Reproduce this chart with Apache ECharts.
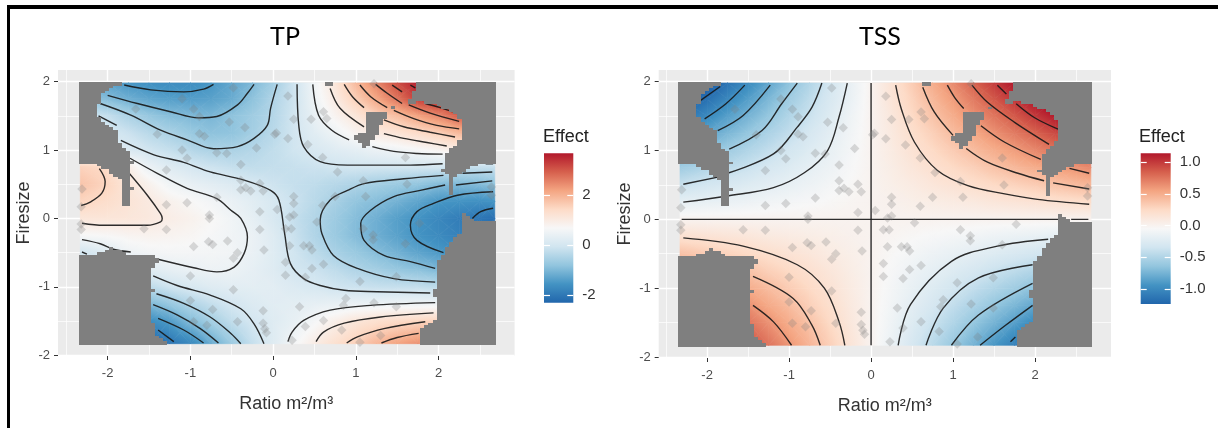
<!DOCTYPE html>
<html><head><meta charset="utf-8">
<style>html,body{margin:0;padding:0;background:#fff}#c{width:1218px;height:428px}</style>
<script src="https://cdn.jsdelivr.net/npm/echarts@6/dist/echarts.min.js"></script>
</head><body><div id="c"></div>
<script>
const panelTitles = ['TP', 'TSS'];
const xLabel = 'Ratio m²/m³';
const yLabel = 'Firesize';
const legendTitle = 'Effect';
const xTicks = [-2, -1, 0, 1, 2];
const yTicks = [-2, -1, 0, 1, 2];
const xMinor = [-2.5, -1.5, -0.5, 0.5, 1.5, 2.5];
const yMinor = [-1.5, -0.5, 0.5, 1.5];
const tpLegendTicks = [-2, 0, 2];
const tssLegendTicks = [-1, -0.5, 0, 0.5, 1];
const tpRange = [-2.3, 3.67];
const tssRange = [-1.24, 1.14];
const palette = ['#2166AC', '#4393C3', '#92C5DE', '#D1E5F0', '#F7F7F7', '#FDDBC7', '#F4A582', '#D6604D', '#B2182B'];

const gridX = [-2.33, -2, -1.75, -1.5, -1.25, -1, -0.75, -0.5, -0.25, 0, 0.25, 0.5, 0.75, 1, 1.25, 1.5, 1.75, 2, 2.25, 2.5, 2.68];
const gridY = [1.98, 1.75, 1.5, 1.25, 1, 0.75, 0.5, 0.25, 0, -0.25, -0.5, -0.75, -1, -1.25, -1.5, -1.83];

const tpValues = [
[-1.2,-1.3,-1.5,-1.6,-1.65,-1.65,-1.5,-1.25,-1,-.6,-.1,.55,1.15,1.9,2.5,3.1,3.6,3.6,3.6,3.6,3.6],
[-.8,-.95,-1.15,-1.3,-1.38,-1.4,-1.35,-1.2,-.85,-.45,-.1,.5,1,1.6,2.15,2.7,3.3,3.5,3.4,3.4,3.4],
[0,-.2,-.5,-.75,-.92,-1,-1.03,-.85,-.65,-.4,-.05,.4,.8,1.15,1.55,1.85,2.2,2.5,2.95,3,3],
[.1,.05,-.12,-.35,-.52,-.72,-.85,-.82,-.6,-.35,-.05,.25,.5,.8,1.02,1.2,1.4,1.6,1.9,2.2,2.3],
[.3,.25,.12,-.05,-.2,-.38,-.5,-.5,-.4,-.25,-.07,.08,.22,.32,.45,.52,.65,.8,.95,1.1,1.2],
[1.55,1.4,.95,.45,.2,.03,-.1,-.2,-.25,-.22,-.18,-.12,-.06,-.04,-.03,-.03,-.02,-.02,-.2,-.2,-.2],
[1.75,1.5,1.15,.85,.55,.4,.28,.15,.03,-.1,-.2,-.28,-.38,-.48,-.6,-.7,-.8,-.95,-1,-.95,-.85],
[1.52,1.35,1.2,1.05,.85,.72,.58,.42,.25,.05,-.12,-.35,-.55,-.8,-.92,-1.1,-1.3,-1.5,-1.55,-1.6,-1.55],
[1.15,1.15,1.13,1.08,.95,.85,.72,.55,.35,.08,-.2,-.43,-.68,-.93,-1.15,-1.38,-1.55,-1.75,-1.92,-2.05,-2.15],
[.65,.7,.78,.82,.8,.75,.65,.55,.45,.2,-.15,-.45,-.7,-.95,-1.15,-1.35,-1.55,-1.7,-1.85,-2,-2],
[-.05,.2,.48,.58,.62,.62,.6,.57,.42,.22,-.06,-.3,-.53,-.72,-.92,-1.1,-1.3,-1.45,-1.7,-1.9,-2],
[-.1,-.1,0,.22,.35,.42,.49,.47,.35,.2,-.02,-.12,-.28,-.45,-.6,-.75,-.85,-1,-1.2,-1.4,-1.5],
[-.4,-.4,-.4,-.3,-.08,.07,.2,.28,.3,.28,.15,.05,-.06,-.12,-.18,-.2,-.22,-.3,-.5,-.6,-.7],
[-1.1,-1.1,-1.1,-1,-.75,-.45,-.22,0,.15,.25,.3,.35,.4,.45,.47,.5,.5,.52,.6,.6,.6],
[-1.7,-1.7,-1.7,-1.65,-1.4,-.95,-.58,-.25,0,.2,.38,.62,.9,1.15,1.3,1.4,1.48,1.55,1.6,1.6,1.6],
[-2.3,-2.3,-2.3,-2.3,-2.05,-1.75,-1.2,-.7,-.2,.2,.6,.97,1.3,1.6,1.95,2.2,2.4,2.5,2.5,2.5,2.5]
];

const tssValues = [
[-1.54,-1.32,-1.15,-.99,-.83,-.66,-.5,-.33,-.16,0,.16,.33,.5,.66,.83,.99,1.15,1.32,1.49,1.65,1.77],
[-1.36,-1.17,-1.02,-.88,-.73,-.58,-.44,-.29,-.15,0,.15,.29,.44,.58,.73,.88,1.02,1.17,1.31,1.46,1.56],
[-1.17,-1,-.87,-.75,-.63,-.5,-.38,-.25,-.12,0,.12,.25,.38,.5,.63,.75,.87,1,1.13,1.25,1.34],
[-.97,-.83,-.73,-.63,-.52,-.42,-.31,-.21,-.1,0,.1,.21,.31,.42,.52,.63,.73,.83,.94,1.04,1.12],
[-.78,-.67,-.58,-.5,-.42,-.33,-.25,-.17,-.08,0,.08,.17,.25,.33,.42,.5,.58,.67,.75,.83,.89],
[-.58,-.5,-.44,-.38,-.31,-.25,-.19,-.13,-.06,0,.06,.13,.19,.25,.31,.38,.44,.5,.56,.62,.67],
[-.39,-.33,-.29,-.25,-.21,-.17,-.13,-.08,-.04,0,.04,.08,.13,.17,.21,.25,.29,.33,.38,.42,.45],
[-.19,-.17,-.15,-.13,-.1,-.08,-.06,-.04,-.02,0,.02,.04,.06,.08,.1,.13,.15,.17,.19,.21,.22],
[0,0,0,0,0,0,0,0,0,0,0,0,0,0,0,0,0,0,0,0,0],
[.19,.17,.15,.13,.1,.08,.06,.04,.02,0,-.02,-.04,-.06,-.08,-.1,-.13,-.15,-.17,-.19,-.21,-.22],
[.39,.33,.29,.25,.21,.17,.13,.08,.04,0,-.04,-.08,-.13,-.17,-.21,-.25,-.29,-.33,-.38,-.42,-.45],
[.58,.5,.44,.38,.31,.25,.19,.13,.06,0,-.06,-.13,-.19,-.25,-.31,-.38,-.44,-.5,-.56,-.62,-.67],
[.78,.67,.58,.5,.42,.33,.25,.17,.08,0,-.08,-.17,-.25,-.33,-.42,-.5,-.58,-.67,-.75,-.83,-.89],
[.97,.83,.73,.63,.52,.42,.31,.21,.1,0,-.1,-.21,-.31,-.42,-.52,-.63,-.73,-.83,-.94,-1.04,-1.12],
[1.17,1,.87,.75,.63,.5,.38,.25,.12,0,-.12,-.25,-.38,-.5,-.63,-.75,-.87,-1,-1.13,-1.25,-1.34],
[1.42,1.22,1.07,.92,.76,.61,.46,.31,.15,0,-.15,-.31,-.46,-.61,-.76,-.92,-1.07,-1.22,-1.37,-1.52,-1.63]
];

const tpContours = [
[[-1.8,1.95],[-1.48,1.88],[-1.08,1.85],[-.84,1.89],[-.72,1.96]],
[[-2,1.8],[-1.64,1.68],[-1.24,1.56],[-.9,1.47],[-.68,1.49],[-.43,1.66],[-.31,1.83],[-.23,1.96]],
[[-2.09,1.68],[-1.72,1.51],[-1.36,1.29],[-1.04,1.15],[-.72,1.02],[-.43,1.05],[-.23,1.17],[-.07,1.36],[-.03,1.61],[.05,1.96]],
[[-2.11,1.5],[-1.89,1.36]],
[[-1.84,1.14],[-1.44,.93],[-1.08,.82],[-.76,.68],[-.35,.56],[-.03,.41],[.07,.27],[.14,-.22],[.21,-.66],[.37,-.88],[.57,-.98],[.86,-1.05],[1.26,-1.07],[1.9,-1.09]],
[[-1.76,.69],[-1.52,.34],[-1.36,.07],[-1.34,0],[-1.36,-.05],[-1.52,-.1],[-2.05,-.1],[-2.31,-.07]],
[[-2.1,.73],[-2.03,.54],[-2.07,.37],[-2.21,.24],[-2.32,.19]],
[[-1.73,.88],[-1.4,.66],[-1.04,.44],[-.68,.29],[-.51,.12],[-.39,0],[-.31,-.27],[-.35,-.51],[-.47,-.71],[-.68,-.78],[-.96,-.72],[-1.38,-.6]],
[[-2.31,-.31],[-2.09,-.37],[-1.93,-.45],[-1.72,-.49]],
[[-2.31,-.49],[-2.25,-.52]],
[[-1.45,-.84],[-1.16,-.98],[-.76,-1.12],[-.39,-1.32],[-.23,-1.54],[-.11,-1.83]],
[[-1.41,-1.1],[-1.08,-1.24],[-.76,-1.44],[-.51,-1.68],[-.39,-1.83]],
[[-1.45,-1.26],[-1.16,-1.41],[-.88,-1.61],[-.66,-1.82]],
[[-1.39,-1.46],[-1.08,-1.63],[-.84,-1.82]],
[[-1.39,-1.63],[-1.2,-1.8]],
[[.29,1.96],[.31,1.37],[.37,1.05],[.57,.83],[.9,.78],[1.66,.78],[2.05,.8]],
[[.48,1.96],[.55,1.51],[.71,1.29],[.92,1.15]],
[[.69,1.9],[.81,1.61],[1.1,1.34]],
[[.86,1.96],[.96,1.78],[1.1,1.62]],
[[1.05,1.95],[1.18,1.78],[1.38,1.62]],
[[1.24,1.96],[1.38,1.83],[1.56,1.68]],
[[1.44,1.95],[1.56,1.85]],
[[1.66,1.95],[1.72,1.91]],
[[1.84,1.68],[2.02,1.62],[2.17,1.56]],
[[1.64,1.66],[1.9,1.54],[2.25,1.42]],
[[1.46,1.58],[1.7,1.46],[1.98,1.36],[2.25,1.31]],
[[1.34,1.44],[1.58,1.34],[1.9,1.26],[2.2,1.19]],
[[1.34,1.24],[1.58,1.17],[1.86,1.11],[2.1,1.06]],
[[1.2,1.05],[1.46,.98],[1.74,.95],[2.05,.94]],
[[2.06,.63],[1.58,.58],[1.1,.51],[.9,.41],[.69,.27],[.57,-.02],[.59,-.22],[.73,-.54],[1.02,-.73],[1.46,-.88],[1.96,-.93]],
[[2.29,.66],[2.65,.68]],
[[2.57,.8],[2.66,.8]],
[[2.08,.49],[1.78,.41],[1.46,.32],[1.18,.12],[1.06,-.07],[1.1,-.32],[1.34,-.54],[1.66,-.63],[1.96,-.73]],
[[2.21,.49],[2.65,.55]],
[[2.66,.39],[2.23,.34],[1.94,.22],[1.74,.1],[1.66,-.1],[1.74,-.32],[2.06,-.5]],
[[2.41,0],[2.51,.1],[2.66,.15]],
[[.18,-1.8],[.23,-1.66],[.37,-1.49],[.69,-1.34],[1.18,-1.27],[1.96,-1.23]],
[[.52,-1.8],[.61,-1.66],[.86,-1.53],[1.3,-1.44],[1.94,-1.38]],
[[.89,-1.82],[1.02,-1.73],[1.34,-1.61],[1.84,-1.51]],
[[1.31,-1.82],[1.5,-1.74],[1.76,-1.68]]
];

const tssContours = [
[[0,1.98],[0,-1.83]],
[[-2.31,0],[2.3,0]],
[[2.44,0],[2.65,0]],
[[.3,1.95],[.37,1.6],[.53,1.12],[.81,.71],[1.18,.49],[1.63,.37],[2.03,.29],[2.66,.22]],
[[.63,1.92],[.77,1.56],[1,1.22]],
[[1.16,1.03],[1.42,.83],[1.79,.67],[2.11,.56]],
[[2.22,.53],[2.66,.44]],
[[.93,1.95],[1.02,1.77],[1.13,1.61]],
[[1.34,1.36],[1.63,1.12],[2.07,.87]],
[[2.42,.74],[2.66,.67]],
[[1.23,1.95],[1.42,1.7],[1.75,1.41],[2.17,1.09]],
[[1.54,1.95],[1.65,1.82]],
[[1.77,1.68],[1.99,1.48],[2.28,1.31]],
[[-2.29,.25],[-1.75,.34],[-1.19,.46],[-.81,.68],[-.53,1],[-.39,1.49],[-.29,1.98]],
[[-2.29,.51],[-1.84,.62]],
[[-1.75,.67],[-1.19,.95],[-.9,1.34],[-.72,1.63],[-.6,1.98]],
[[-1.73,1.02],[-1.33,1.29],[-1.09,1.68],[-.9,1.98]],
[[-1.87,1.29],[-1.56,1.51],[-1.23,1.95]],
[[-2.03,1.46],[-1.77,1.68],[-1.54,1.95]],
[[-2.1,1.71],[-1.84,1.93]],
[[-2.29,-.27],[-1.56,-.39],[-.9,-.66],[-.57,-1],[-.39,-1.49],[-.32,-1.83]],
[[-1.44,-.83],[-.95,-1.15],[-.72,-1.54],[-.62,-1.83]],
[[-1.44,-1.25],[-1.19,-1.49],[-.97,-1.83]],
[[.33,-1.83],[.48,-1.24],[.98,-.61],[1.54,-.39],[2.16,-.29]],
[[.67,-1.83],[.88,-1.29],[1.31,-.85],[1.97,-.66]],
[[.98,-1.83],[1.31,-1.39],[1.97,-.93]],
[[1.33,-1.83],[1.64,-1.54],[1.97,-1.25]],
[[1.7,-1.78],[1.76,-1.71]]
];

const pointsX = [-.48,1.22,.18,-1.1,-.96,-1.66,-.89,-.53,.46,.25,.65,.61,-.34,-1.4,-.89,-.83,.04,.02,.18,.42,-.2,-1.1,-1.04,-.68,-.56,.6,1.6,-.39,.78,-1.29,-.39,-.16,1.09,1.62,-.39,-.33,-.27,-.12,.25,-2.31,-.68,1.12,.75,.25,-1.04,-1.29,-2.32,.6,2.64,2.64,-.16,.05,.25,.2,-.77,-.77,.53,1.77,-2.32,-2.32,-1.56,-1.29,-.16,.15,.22,1.09,1.21,1.21,1.6,-.78,-.73,-.55,-.96,.2,.37,.44,.47,-.11,-.43,-.48,.15,.61,.47,-1,.15,.39,1.49,1.05,-.48,-1,.88,.85,1.22,1.49,.32,-.73,-.12,.61,-.43,-.8,-.96,-.12,.39,-.1,-.08,.83,1.3,.23,1.05];
const pointsY = [1.91,1.97,1.79,1.75,1.6,1.6,1.49,1.41,1.45,1.45,1.46,1.56,1.33,1.23,1.24,1.2,1.25,1.23,1.17,1.08,1.03,1,.88,.96,.95,.89,.89,.79,.68,.71,.56,.51,.55,.5,.42,.45,.4,.4,.32,.43,.31,.32,.32,.22,.23,.2,.17,.19,.34,.46,.1,.13,.05,.02,.05,0,-.05,-.07,-.08,-.16,-.15,-.16,-.16,-.15,-.15,-.15,-.24,-.31,-.37,-.34,-.38,-.33,-.41,-.4,-.4,-.4,-.46,-.46,-.5,-.58,-.64,-.67,-.73,-.84,-.83,-.86,-.85,-.92,-1.04,-1.2,-1.17,-1.27,-1.23,-1.29,-1.29,-1.33,-1.35,-1.49,-1.51,-1.56,-1.51,-1.53,-1.58,-1.61,-1.67,-1.63,-1.71,-1.78,-1.81];

const maskTopLeft = [[-2.33,1.98],[-1.82,1.98],[-2.07,1.83],[-2.11,1.64],[-2.16,1.61],[-2.13,1.5],[-1.88,1.26],[-1.88,1.13],[-1.72,.95],[-1.7,.81],[-1.74,.62],[-1.7,.46],[-1.68,.44],[-1.75,.37],[-1.75,.19],[-1.82,.19],[-1.82,.53],[-1.97,.68],[-2.11,.78],[-2.33,.79]];
const maskBottomLeft = [[-2.33,-.54],[-2.11,-.51],[-1.97,-.43],[-1.87,-.45],[-1.78,-.52],[-1.42,-.54],[-1.37,-.62],[-1.46,-.73],[-1.46,-1.02],[-1.41,-1.02],[-1.41,-1.07],[-1.47,-1.08],[-1.47,-1.5],[-1.41,-1.54],[-1.41,-1.71],[-1.28,-1.83],[-2.33,-1.83]];
const maskCentre = [[1.14,1.57],[1.42,1.57],[1.5,1.62],[1.43,1.62],[1.3,1.36],[1.3,1.29],[1.18,1.12],[1.12,1],[1.04,1.12],[.94,1.17],[1.04,1.24],[1.14,1.29]];
const maskTopStub = [[.63,1.98],[.73,1.98],[.73,1.93],[.63,1.93]];
const maskTopRight = [[1.74,1.98],[1.7,1.85],[1.62,1.68],[1.64,1.66],[1.78,1.71],[1.98,1.66],[2.23,1.51],[2.29,1.37],[2.29,1.19],[2.21,1.07],[2.11,1],[2.08,.73],[2.04,.71],[2.06,.66],[2.14,.61],[2.14,.34],[2.19,.34],[2.19,.61],[2.29,.68],[2.39,.75],[2.54,.8],[2.68,.8],[2.68,1.98]];
const maskBottomRight = [[2.3,.06],[2.43,-.02],[2.48,-.05],[2.68,-.05],[2.68,-1.83],[1.79,-1.83],[1.79,-1.63],[1.86,-1.56],[1.96,-1.49],[1.98,-1.42],[1.98,-1.14],[1.94,-1.14],[1.94,-1.02],[1.98,-1.02],[1.98,-.66],[2.06,-.51],[2.12,-.37],[2.24,-.25],[2.3,-.1]];
const maskPolygons = [maskTopLeft, maskBottomLeft, maskCentre, maskTopStub, maskTopRight, maskBottomRight];

/* ---------- helpers ---------- */
const FONT = '"Liberation Sans", Arial, sans-serif';
const hex = h => [1, 3, 5].map(i => parseInt(h.substr(i, 2), 16));
const paletteRGB = palette.map(hex);
function ramp(v, r) {
  let t = (v - r[0]) / (r[1] - r[0]) * (palette.length - 1);
  t = Math.max(0, Math.min(palette.length - 1, t));
  const i = Math.min(palette.length - 2, Math.floor(t)), f = t - i;
  const a = paletteRGB[i], b = paletteRGB[i + 1];
  return 'rgb(' + a.map((c, k) => Math.round(c + (b[k] - c) * f)).join(',') + ')';
}
function triangles(rows) {
  const out = [];
  for (let j = 0; j < gridY.length - 1; j++) for (let i = 0; i < gridX.length - 1; i++) {
    const a = [gridX[i], gridY[j], rows[j][i]], b = [gridX[i + 1], gridY[j], rows[j][i + 1]];
    const c = [gridX[i + 1], gridY[j + 1], rows[j + 1][i + 1]], d = [gridX[i], gridY[j + 1], rows[j + 1][i]];
    const m = [(a[0] + b[0]) / 2, (a[1] + d[1]) / 2, (a[2] + b[2] + c[2] + d[2]) / 4];
    [[a, b], [b, c], [c, d], [d, a]].forEach(e => out.push([].concat(e[0], e[1], m)));
  }
  return out;
}
function heatItem(range) {
  return function (params, api) {
    const P = [0, 3, 6].map(k => api.coord([api.value(k), api.value(k + 1)]));
    const V = [2, 5, 8].map(k => api.value(k));
    const det = (P[1][0] - P[0][0]) * (P[2][1] - P[0][1]) - (P[2][0] - P[0][0]) * (P[1][1] - P[0][1]);
    const gx = ((V[1] - V[0]) * (P[2][1] - P[0][1]) - (V[2] - V[0]) * (P[1][1] - P[0][1])) / det;
    const gy = ((P[1][0] - P[0][0]) * (V[2] - V[0]) - (P[2][0] - P[0][0]) * (V[1] - V[0])) / det;
    const g2 = gx * gx + gy * gy, lo = Math.min.apply(null, V), hi = Math.max.apply(null, V);
    let fill;
    if (g2 < 1e-10 || hi - lo < 1e-6) fill = ramp(V[0], range);
    else {
      const stops = [{ offset: 0, color: ramp(lo, range) }];
      const step = (range[1] - range[0]) / (palette.length - 1);
      for (let k = 0; k < palette.length; k++) {
        const kv = range[0] + k * step;
        if (kv > lo && kv < hi) stops.push({ offset: (kv - lo) / (hi - lo), color: palette[k] });
      }
      stops.push({ offset: 1, color: ramp(hi, range) });
      fill = new echarts.graphic.LinearGradient(
        P[0][0] + gx * (lo - V[0]) / g2, P[0][1] + gy * (lo - V[0]) / g2,
        P[0][0] + gx * (hi - V[0]) / g2, P[0][1] + gy * (hi - V[0]) / g2, stops, true);
    }
    return { type: 'polygon', silent: true, shape: { points: P }, style: { fill: fill, stroke: fill, lineWidth: 0.7 } };
  };
}
function inPoly(x, y, poly) {
  let inside = false;
  for (let i = 0, j = poly.length - 1; i < poly.length; j = i++) {
    const a = poly[i], b = poly[j];
    if ((a[1] > y) !== (b[1] > y) && x < (b[0] - a[0]) * (y - a[1]) / (b[1] - a[1]) + a[0]) inside = !inside;
  }
  return inside;
}
function maskRuns() {
  const nx = 100, ny = 100, x0 = -2.33, x1 = 2.68, y0 = -1.83, y1 = 1.98, bleed = 0.02;
  const dx = (x1 - x0) / nx, dy = (y1 - y0) / ny, runs = [];
  for (let j = 0; j < ny; j++) {
    const yc = y0 + (j + .5) * dy;
    let start = -1;
    for (let i = 0; i <= nx; i++) {
      const on = i < nx && maskPolygons.some(p => inPoly(x0 + (i + .5) * dx, yc, p));
      if (on && start < 0) start = i;
      if (!on && start >= 0) {
        runs.push([x0 + start * dx - (start === 0 ? bleed : 0), y0 + j * dy - (j === 0 ? bleed : 0),
                   x0 + i * dx + (i === nx ? bleed : 0), y0 + (j + 1) * dy + (j === ny - 1 ? bleed : 0)]);
        start = -1;
      }
    }
  }
  return runs;
}
function maskItem(params, api) {
  const a = api.coord([api.value(0), api.value(3)]), b = api.coord([api.value(2), api.value(1)]);
  const x = Math.round(a[0]), y = Math.round(a[1]);
  return { type: 'rect', silent: true, shape: { x: x, y: y, width: Math.round(b[0]) - x, height: Math.round(b[1]) - y }, style: { fill: '#7F7F7F' } };
}
const runs = maskRuns();
const points = pointsX.map((x, i) => [x, pointsY[i]]);

/* ---------- layout ---------- */
const panels = [
  { grid: { left: 58, top: 70, width: 456.6, height: 286 }, x: [-2.6, 2.92], y: [-2.01, 2.17], values: tpValues, contours: tpContours, range: tpRange, legTicks: tpLegendTicks, fmt: v => String(v),
    legGrid: { left: 544, top: 153.3, width: 29.3, height: 149.4 } },
  { grid: { left: 658.7, top: 70, width: 452.3, height: 288 }, x: [-2.59, 2.926], y: [-2.015, 2.17], values: tssValues, contours: tssContours, range: tssRange, legTicks: tssLegendTicks, fmt: v => v.toFixed(1),
    legGrid: { left: 1140.7, top: 153.3, width: 30, height: 150.7 } }
];
const grids = [], xAxes = [], yAxes = [], series = [];
panels.forEach((p, n) => {
  const g = grids.length;
  grids.push(Object.assign({ show: true, backgroundColor: '#EBEBEB', borderWidth: 0, containLabel: false }, p.grid));
  const mk = (extra) => Object.assign({ type: 'value', gridIndex: g, axisLine: { show: false, onZero: false } }, extra);
  const xMain = xAxes.length;
  xAxes.push(mk({ min: p.x[0], max: p.x[1], position: 'bottom', name: xLabel, nameLocation: 'middle', nameGap: 39,
    nameTextStyle: { color: '#333', fontSize: 18, fontFamily: FONT },
    axisTick: { length: 4, lineStyle: { color: '#333', width: 1 }, customValues: xTicks },
    axisLabel: { customValues: xTicks, color: '#4D4D4D', fontSize: 13, margin: 11, fontFamily: FONT },
    splitLine: { show: true, lineStyle: { color: '#fff', width: 1.4 } } }));
  xAxes.push(mk({ min: p.x[0], max: p.x[1], position: 'top', axisTick: { show: false, customValues: xMinor }, axisLabel: { show: false, customValues: xMinor },
    splitLine: { show: true, lineStyle: { color: '#fff', width: 0.7 } } }));
  const yMain = yAxes.length;
  yAxes.push(mk({ min: p.y[0], max: p.y[1], position: 'left', name: yLabel, nameLocation: 'middle', nameGap: 25,
    nameTextStyle: { color: '#333', fontSize: 18, fontFamily: FONT },
    axisTick: { length: 4, lineStyle: { color: '#333', width: 1 }, customValues: yTicks },
    axisLabel: { customValues: yTicks, color: '#4D4D4D', fontSize: 13, margin: 8, fontFamily: FONT },
    splitLine: { show: true, lineStyle: { color: '#fff', width: 1.4 } } }));
  yAxes.push(mk({ min: p.y[0], max: p.y[1], position: 'right', axisTick: { show: false, customValues: yMinor }, axisLabel: { show: false, customValues: yMinor },
    splitLine: { show: true, lineStyle: { color: '#fff', width: 0.7 } } }));
  const ax = { xAxisIndex: xMain, yAxisIndex: yMain };
  series.push(Object.assign({ type: 'custom', name: panelTitles[n] + ' effect', renderItem: heatItem(p.range), data: triangles(p.values), encode: { x: [0, 3, 6], y: [1, 4, 7] }, z: 2, animation: false, silent: true, clip: true, progressive: 0 }, ax));
  p.contours.forEach(c => series.push(Object.assign({ type: 'line', data: c, smooth: 0.35, showSymbol: false, symbol: 'none', silent: true, z: 3, animation: false,
    lineStyle: { color: '#161616', width: 1.4, opacity: 0.9 } }, ax)));
  series.push(Object.assign({ type: 'custom', name: 'mask', renderItem: maskItem, data: runs, encode: { x: [0, 2], y: [1, 3] }, z: 4, animation: false, silent: true, progressive: 0 }, ax));
  series.push(Object.assign({ type: 'scatter', name: 'sites', data: points, symbol: 'diamond', symbolSize: 9.5, silent: true, z: 5, animation: false,
    itemStyle: { color: '#7d7d7d', opacity: 0.27 } }, ax));
  /* legend colour bar */
  const lg = grids.length;
  grids.push(Object.assign({ show: false, containLabel: false }, p.legGrid));
  const lx = xAxes.length;
  xAxes.push({ type: 'value', gridIndex: lg, min: 0, max: 1, show: false });
  const ly = yAxes.length;
  const tickStyle = { inside: true, length: 6, lineStyle: { color: '#fff', width: 1.2 }, customValues: p.legTicks };
  yAxes.push({ type: 'value', gridIndex: lg, min: p.range[0], max: p.range[1], position: 'right', z: 6, axisLine: { show: false, onZero: false }, splitLine: { show: false },
    axisTick: tickStyle, axisLabel: { customValues: p.legTicks, color: '#333', fontSize: 15, margin: 9, fontFamily: FONT, formatter: p.fmt } });
  yAxes.push({ type: 'value', gridIndex: lg, min: p.range[0], max: p.range[1], position: 'left', z: 6, axisLine: { show: false, onZero: false }, splitLine: { show: false },
    axisTick: tickStyle, axisLabel: { show: false, customValues: p.legTicks } });
  series.push({ type: 'custom', name: 'colour bar', xAxisIndex: lx, yAxisIndex: ly, data: [[0, p.range[0], 1, p.range[1]]], encode: { x: [0, 2], y: [1, 3] }, z: 2, animation: false, silent: true,
    renderItem: (params, api) => {
      const a = api.coord([api.value(0), api.value(3)]), b = api.coord([api.value(2), api.value(1)]);
      return { type: 'rect', silent: true, shape: { x: a[0], y: a[1], width: b[0] - a[0], height: b[1] - a[1] },
        style: { fill: new echarts.graphic.LinearGradient(0, 0, 0, 1, palette.map((c, i) => ({ offset: 1 - i / (palette.length - 1), color: c }))) } };
    } });
});

const chart = echarts.init(document.getElementById('c'), null, { renderer: 'canvas' });
chart.setOption({
  animation: false,
  backgroundColor: '#fff',
  title: [
    { text: panelTitles[0], left: 280, top: 19, textAlign: 'center', textStyle: { color: '#000', fontSize: 25, fontWeight: 'normal', fontFamily: 'Lato' } },
    { text: panelTitles[1], left: 875, top: 19, textAlign: 'center', textStyle: { color: '#000', fontSize: 25, fontWeight: 'normal', fontFamily: 'Lato' } },
    { text: legendTitle, left: 538, top: 123.5, textStyle: { color: '#222', fontSize: 18, fontWeight: 'normal', fontFamily: FONT } },
    { text: legendTitle, left: 1134, top: 123.5, textStyle: { color: '#222', fontSize: 18, fontWeight: 'normal', fontFamily: FONT } }
  ],
  graphic: [
    { type: 'rect', shape: { x: 7, y: 5, width: 1211, height: 4 }, style: { fill: '#000' }, silent: true },
    { type: 'rect', shape: { x: 7, y: 5, width: 3, height: 423 }, style: { fill: '#000' }, silent: true }
  ],
  grid: grids, xAxis: xAxes, yAxis: yAxes, series: series
});
</script></body></html>
